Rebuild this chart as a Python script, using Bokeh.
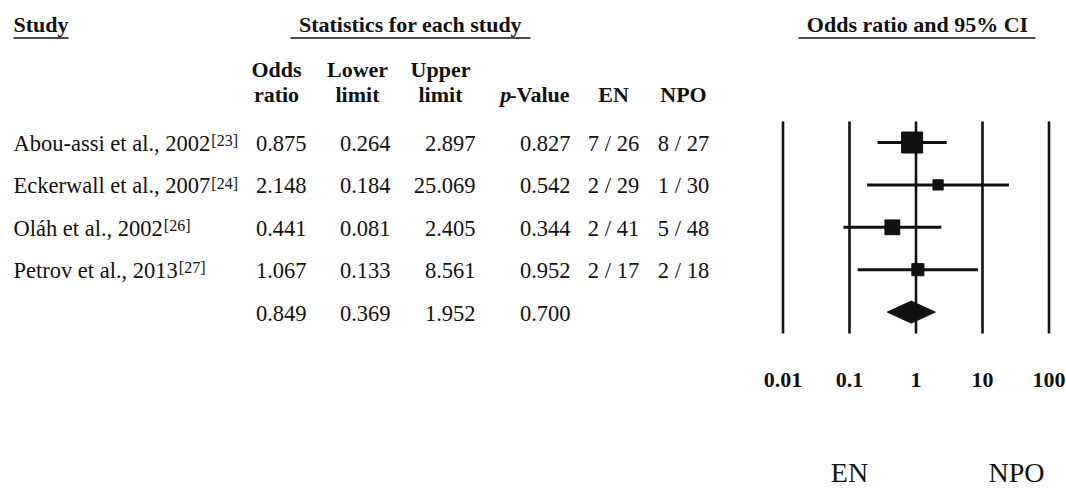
from bokeh.plotting import figure
from bokeh.models import Range1d, LogScale
from bokeh.embed import file_html
from bokeh.resources import INLINE
from bokeh.core.properties import value
import math

# ---- study data -------------------------------------------------------------
studies = ["Abou-assi et al., 2002", "Eckerwall et al., 2007",
           "Oláh et al., 2002", "Petrov et al., 2013"]
refs = ["[23]", "[24]", "[26]", "[27]"]
odds_ratio = [0.875, 2.148, 0.441, 1.067]
lower_limit = [0.264, 0.184, 0.081, 0.133]
upper_limit = [2.897, 25.069, 2.405, 8.561]
p_values = [0.827, 0.542, 0.344, 0.952]
en_events = [7, 2, 2, 2]
en_total = [26, 29, 41, 17]
npo_events = [8, 1, 5, 2]
npo_total = [27, 30, 48, 18]

pooled_or = 0.849
pooled_lower = 0.369
pooled_upper = 1.952
pooled_p = 0.700

scale_ticks = [0.01, 0.1, 1, 10, 100]
scale_labels = ["0.01", "0.1", "1", "10", "100"]

# ---- page geometry (pixels, y grows downwards) -----------------------------
W, H = 1066, 490
FONT = value("Liberation Serif")
ROW_BASE = 152.0        # baseline of the first study row
ROW_STEP = 42.4
X_FIRST_TICK = 782.5    # where 0.01 sits
PX_PER_DECADE = 66.5

# approximate Times/Liberation Serif advance widths (em)
_REG = {" ": .25, ",": .25, "-": .333, ".": .25, "A": .722, "E": .611, "O": .722,
        "P": .556, "V": .722, "a": .444, "á": .444, "b": .5, "c": .444, "e": .444,
        "h": .5, "i": .278, "k": .5, "l": .278, "o": .5, "r": .333, "s": .389,
        "t": .278, "u": .5, "v": .5, "w": .722}
_BOLD = {"-": .333, "V": .722, "a": .5, "l": .278, "u": .556, "e": .444}


def text_width(s, size, table=_REG):
    return sum(table.get(ch, 0.5) for ch in s) * size


log_start = 10 ** (math.log10(scale_ticks[0]) - X_FIRST_TICK / PX_PER_DECADE)
log_end = 10 ** (math.log10(scale_ticks[-1])
                 + (W - X_FIRST_TICK - 4 * PX_PER_DECADE) / PX_PER_DECADE)

p = figure(width=W, height=H, x_range=Range1d(0, W), y_range=Range1d(H, 0),
           output_backend="svg", toolbar_location=None, min_border=0,
           background_fill_color="white", border_fill_color="white")
p.axis.visible = False
p.grid.visible = False
p.outline_line_color = None
p.extra_x_ranges = {"or": Range1d(log_start, log_end)}
p.extra_x_scales = {"or": LogScale()}

n = len(studies)
baselines = [ROW_BASE + i * ROW_STEP for i in range(n + 1)]
centers = [b - 10 for b in baselines]


def txt(x, y, t, size=22.5, align="left", style="normal", **kw):
    # the svg text sits a little low on its baseline; lift it by a fraction of the size
    lift = 0.4 * size
    p.text(x=x, y=[v - lift for v in y], text=t, text_font=FONT,
           text_font_size=f"{size}px", text_align=align,
           text_baseline="alphabetic", text_font_style=style,
           text_color="#111111", **kw)


# ---- headings --------------------------------------------------------------
txt([13], [33], ["Study"], size=22, style="bold")
txt([410], [33], ["Statistics for each study"], size=22, align="center", style="bold")
txt([917], [33], ["Odds ratio and 95% CI"], size=22, align="center", style="bold")
p.segment(x0=[13, 290, 798], x1=[68, 530, 1035], y0=[37.5] * 3, y1=[37.5] * 3,
          line_color="#111111", line_width=1.6)

txt([276, 357, 440], [78] * 3, ["Odds", "Lower", "Upper"], size=22,
    align="center", style="bold")
txt([276, 357, 440], [103] * 3, ["ratio", "limit", "limit"], size=22,
    align="center", style="bold")
pv_right = 569
dash_value_w = text_width("-Value", 22, _BOLD)
txt([pv_right], [103], ["-Value"], size=22, align="right", style="bold")
txt([pv_right - dash_value_w + 4], [103], ["p"], size=22, align="right",
    style="bold italic")
txt([613, 683], [103] * 2, ["EN", "NPO"], size=22, align="center", style="bold")

# ---- table body ------------------------------------------------------------
txt([13] * n, baselines[:n], studies)
ref_x = [13 + text_width(s, 22.5) + 1 for s in studies]
txt(ref_x, [b - 5.5 for b in baselines[:n]], refs, size=16)

fmt = lambda v: f"{v:.3f}"
txt([306] * (n + 1), baselines, [fmt(v) for v in odds_ratio + [pooled_or]], align="right")
txt([390] * (n + 1), baselines, [fmt(v) for v in lower_limit + [pooled_lower]], align="right")
txt([475] * (n + 1), baselines, [fmt(v) for v in upper_limit + [pooled_upper]], align="right")
txt([570] * (n + 1), baselines, [fmt(v) for v in p_values + [pooled_p]], align="right")
txt([613] * n, baselines[:n], [f"{a} / {b}" for a, b in zip(en_events, en_total)],
    align="center")
txt([683] * n, baselines[:n], [f"{a} / {b}" for a, b in zip(npo_events, npo_total)],
    align="center")

# ---- forest plot -----------------------------------------------------------
p.segment(x0=scale_ticks, x1=scale_ticks, y0=[121] * 5, y1=[333] * 5,
          x_range_name="or", line_color="#111111", line_width=2.6)
p.segment(x0=lower_limit, x1=upper_limit, y0=centers[:n], y1=centers[:n],
          x_range_name="or", line_color="#111111", line_width=3)

# square side follows the inverse-variance weight of each study
se = [(math.log(u) - math.log(l)) / 3.92 for l, u in zip(lower_limit, upper_limit)]
weights = [1 / s ** 2 for s in se]
wmax = max(weights)
sides = [21 * math.sqrt(w / wmax) for w in weights]
p.scatter(x=odds_ratio, y=centers[:n], size=sides, marker="square",
          x_range_name="or", fill_color="#111111", line_color="#111111")

yc = centers[n]
p.patch(x=[pooled_lower, pooled_or, pooled_upper, pooled_or],
        y=[yc, yc - 11, yc, yc + 11], x_range_name="or",
        fill_color="#111111", line_color="#111111")

txt(scale_ticks, [388] * 5, scale_labels, size=22, align="center", style="bold",
    x_range_name="or")

# direction labels under the scale
txt([849, 1016], [483, 483], ["EN", "NPO"], size=28, align="center")

open("out.html", "w").write(file_html(p, INLINE))
